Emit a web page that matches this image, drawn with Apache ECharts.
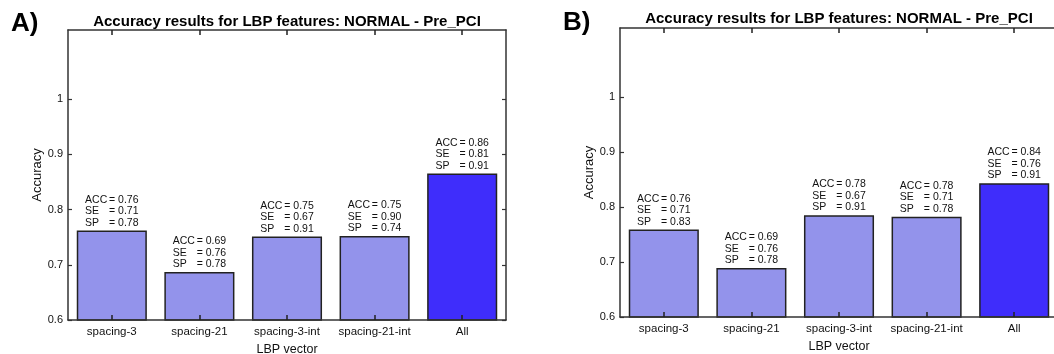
<!DOCTYPE html>
<html>
<head>
<meta charset="utf-8">
<script src="https://cdn.jsdelivr.net/npm/echarts@6/dist/echarts.min.js"></script>
<style>html,body{margin:0;padding:0;background:#fff;}#c{width:1054px;height:354px;}</style>
</head>
<body>
<div id="c"></div>
<script>
const categories = ['spacing-3', 'spacing-21', 'spacing-3-int', 'spacing-21-int', 'All'];
const accA = [0.762, 0.687, 0.751, 0.752, 0.865];
const accLabelA = ['0.76', '0.69', '0.75', '0.75', '0.86'];
const seLabelA = ['0.71', '0.76', '0.67', '0.90', '0.81'];
const spLabelA = ['0.78', '0.78', '0.91', '0.74', '0.91'];
const accB = [0.759, 0.689, 0.785, 0.782, 0.843];
const accLabelB = ['0.76', '0.69', '0.78', '0.78', '0.84'];
const seLabelB = ['0.71', '0.76', '0.67', '0.71', '0.76'];
const spLabelB = ['0.83', '0.78', '0.91', '0.78', '0.91'];
const yTicks = [0.6, 0.7, 0.8, 0.9, 1];
const titleText = 'Accuracy results for LBP features: NORMAL - Pre_PCI';

const LIGHT = '#9393EB', DARK = '#3F2DFB', AX = '#333';
const FONT = 'Arial, "Liberation Sans", Helvetica, sans-serif';

function makeData(vals, acc, se, sp) {
  return vals.map((v, i) => ({
    value: v,
    itemStyle: { color: i === vals.length - 1 ? DARK : LIGHT },
    label: {
      formatter: '{k|ACC}{v|= ' + acc[i] + '}\n{k|SE}{v|= ' + se[i] + '}\n{k|SP}{v|= ' + sp[i] + '}'
    }
  }));
}

const richLab = {
  k: { width: 24, fontSize: 10.5, fontFamily: FONT, color: '#111', lineHeight: 11.5, align: 'left' },
  v: { fontSize: 10.5, fontFamily: FONT, color: '#111', lineHeight: 11.5, align: 'left' }
};

function xAxes(gi) {
  return [
    { type: 'category', gridIndex: gi, data: categories, position: 'bottom', z: 5,
      axisLine: { lineStyle: { color: AX, width: 1.5 } },
      axisTick: { show: true, inside: true, alignWithLabel: true, interval: 0, length: 5, lineStyle: { color: '#222', width: 1.5 } },
      axisLabel: { color: '#111', fontSize: 11.5, fontFamily: FONT, margin: 6, interval: 0 },
      name: 'LBP vector', nameLocation: 'middle', nameGap: 21,
      nameTextStyle: { color: '#111', fontSize: 12.5, fontFamily: FONT } },
    { type: 'category', gridIndex: gi, data: categories, position: 'top', z: 5,
      axisLine: { lineStyle: { color: AX, width: 1.5 } },
      axisTick: { show: true, inside: true, alignWithLabel: true, interval: 0, length: 5, lineStyle: { color: '#222', width: 1.5 } },
      axisLabel: { show: false, interval: 0 } }
  ];
}
function yAxes(gi) {
  const base = { type: 'value', gridIndex: gi, min: 0.6, max: 1.125, interval: 0.1, splitLine: { show: false }, z: 5 };
  return [
    Object.assign({}, base, { position: 'left',
      axisLine: { show: true, lineStyle: { color: AX, width: 1.5 } },
      axisTick: { show: true, inside: true, length: 4, customValues: yTicks, lineStyle: { color: AX, width: 1.2 } },
      axisLabel: { color: '#111', fontSize: 11, fontFamily: FONT, margin: 5, customValues: yTicks },
      name: 'Accuracy', nameLocation: 'middle', nameGap: 24, nameRotate: 90,
      nameTextStyle: { color: '#111', fontSize: 13, fontFamily: FONT } }),
    Object.assign({}, base, { position: 'right',
      axisLine: { show: true, lineStyle: { color: AX, width: 1.5 } },
      axisTick: { show: true, inside: true, length: 4, customValues: yTicks, lineStyle: { color: AX, width: 1.2 } },
      axisLabel: { show: false } })
  ];
}

function barSeries(gi, vals, acc, se, sp) {
  return {
    type: 'bar', xAxisIndex: gi * 2, yAxisIndex: gi * 2, barWidth: '80%',
    data: makeData(vals, acc, se, sp),
    itemStyle: { borderColor: '#222', borderWidth: 1.5 },
    label: { show: true, position: 'top', distance: 2, rich: richLab },
    animation: false
  };
}

const chart = echarts.init(document.getElementById('c'));
chart.setOption({
  animation: false,
  grid: [
    { left: 68, top: 30, width: 438, height: 290, outerBoundsMode: 'none', containLabel: false },
    { left: 620, top: 28, width: 438, height: 289, outerBoundsMode: 'none', containLabel: false }
  ],
  xAxis: xAxes(0).concat(xAxes(1)),
  yAxis: yAxes(0).concat(yAxes(1)),
  series: [
    barSeries(0, accA, accLabelA, seLabelA, spLabelA),
    barSeries(1, accB, accLabelB, seLabelB, spLabelB)
  ],
  graphic: [
    { type: 'text', left: 11, top: 11, style: { text: 'A)', font: 'bold 26px ' + FONT, fill: '#000' } },
    { type: 'text', left: 563, top: 10, style: { text: 'B)', font: 'bold 26px ' + FONT, fill: '#000' } },
    { type: 'text', x: 287, y: 21.5, style: { text: titleText, font: 'bold 15px ' + FONT, fill: '#000', align: 'center', verticalAlign: 'middle' } },
    { type: 'text', x: 839, y: 18.5, style: { text: titleText, font: 'bold 15px ' + FONT, fill: '#000', align: 'center', verticalAlign: 'middle' } }
  ]
});
</script>
</body>
</html>
